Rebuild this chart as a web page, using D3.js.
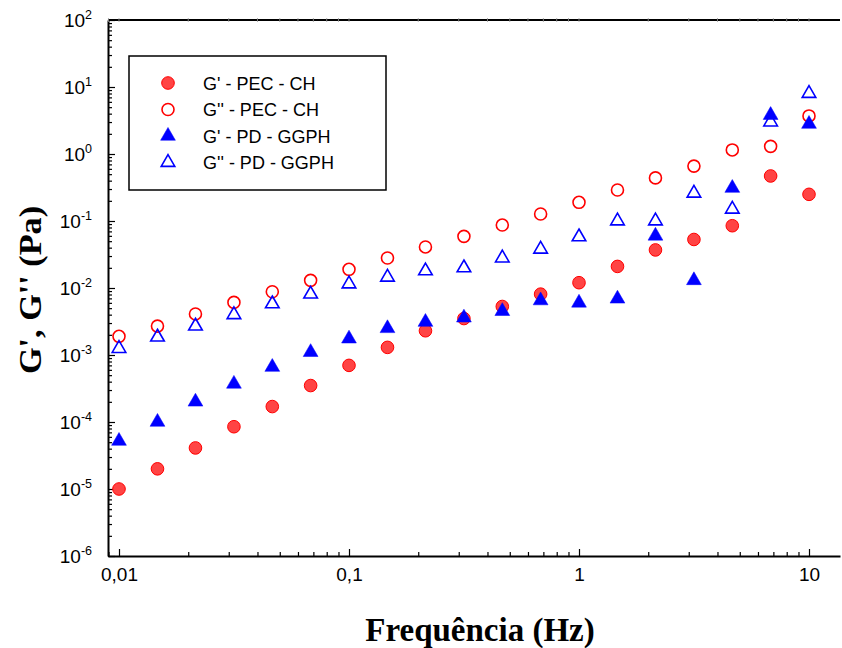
<!DOCTYPE html>
<html>
<head>
<meta charset="utf-8">
<script src="https://cdnjs.cloudflare.com/ajax/libs/d3/7.8.5/d3.min.js"></script>
<style>
    body { margin: 0; background: #fff; }
    text { font-family: Arial, "Liberation Sans", sans-serif; }
</style>
</head>
<body>
<script>
    // frequencies (Hz), 6 points per decade
    var freq = [0.01, 0.0147, 0.0215, 0.0316, 0.0464, 0.0681, 0.1, 0.147, 0.215, 0.316,
                0.464, 0.681, 1, 1.47, 2.15, 3.16, 4.64, 6.81, 10];

    var gp_pec = [1.0e-5, 2.0e-5, 4.1e-5, 8.5e-5, 1.7e-4, 3.5e-4, 7.0e-4, 1.3e-3, 2.3e-3, 3.5e-3,
                  5.3e-3, 8.1e-3, 0.012, 0.021, 0.037, 0.053, 0.085, 0.47, 0.25];
    var gpp_pec = [1.9e-3, 2.7e-3, 4.1e-3, 6.1e-3, 8.8e-3, 0.013, 0.019, 0.028, 0.041, 0.059,
                   0.087, 0.127, 0.19, 0.29, 0.44, 0.66, 1.15, 1.3, 3.7];
    var gp_pd = [5.2e-5, 1.0e-4, 2.0e-4, 3.7e-4, 6.6e-4, 1.1e-3, 1.75e-3, 2.5e-3, 3.1e-3, 3.6e-3,
                 4.5e-3, 6.5e-3, 6.0e-3, 6.9e-3, 0.060, 0.013, 0.31, 3.8, 2.8];
    var gpp_pd = [1.25e-3, 1.85e-3, 2.7e-3, 4.0e-3, 5.8e-3, 8.1e-3, 0.0115, 0.0145, 0.018, 0.020,
                  0.028, 0.038, 0.058, 0.10, 0.10, 0.26, 0.15, 3.0, 8.0];

    var seriesNames = ["G' - PEC - CH", "G'' - PEC - CH", "G' - PD - GGPH", "G'' - PD - GGPH"];
    var xTickLabels = ["0,01", "0,1", "1", "10"];
    var yExponents = [-6, -5, -4, -3, -2, -1, 0, 1, 2];

    var series = [
        {name: seriesNames[0], values: gp_pec, shape: 'circle', filled: true, color: '#ff0000', fill: '#ff4444'},
        {name: seriesNames[1], values: gpp_pec, shape: 'circle', filled: false, color: '#ff0000', fill: '#fff'},
        {name: seriesNames[2], values: gp_pd, shape: 'triangle', filled: true, color: '#0000ff', fill: '#0000ff'},
        {name: seriesNames[3], values: gpp_pd, shape: 'triangle', filled: false, color: '#0000ff', fill: '#fff'}
    ];

    var W = 842, H = 648;
    var pLeft = 108, pRight = 840, pTop = 20, pBottom = 556;

    var svg = d3.select('body').append('svg')
        .attr('width', W)
        .attr('height', H);

    // 0,01 sits 11px in from the left axis, 10 sits at 809
    var x = d3.scaleLog()
        .domain([0.01, 10])
        .range([119, 809]);
    x.domain([x.invert(pLeft), x.invert(pRight)]).range([pLeft, pRight]);

    var y = d3.scaleLog()
        .domain([1e-6, 1e2])
        .range([pBottom, pTop]);

    function isMajor(v) {
        var l = Math.log10(v);
        return Math.abs(l - Math.round(l)) < 1e-6;
    }

    var xTicks = [];
    for (var e = -3; e <= 1; e++) {
        for (var m = 1; m < 10; m++) {
            var v = m * Math.pow(10, e);
            if (v >= x.domain()[0] && v <= x.domain()[1]) xTicks.push(v);
        }
    }
    var yTicks = [];
    for (var e = -6; e <= 2; e++) {
        for (var m = 1; m < 10; m++) {
            var v = m * Math.pow(10, e);
            if (v <= 100) yTicks.push(v);
        }
    }

    // bottom axis, ticks pointing inward
    var xAxis = svg.append('g')
        .attr('transform', 'translate(0,' + pBottom + ')')
        .call(d3.axisBottom(x).tickValues(xTicks).tickSizeInner(-6).tickSizeOuter(0).tickPadding(12)
            .tickFormat(d => {
                var i = [0.01, 0.1, 1, 10].findIndex(t => Math.abs(t - d) < 1e-9);
                return i >= 0 ? xTickLabels[i] : '';
            }));
    xAxis.select('.domain').attr('stroke-width', 2);
    xAxis.selectAll('.tick line')
        .attr('y2', d => isMajor(d) ? -7 : -4)
        .attr('stroke-width', 1.2);
    xAxis.selectAll('.tick text')
        .attr('font-size', 19)
        .attr('fill', '#000')
        .attr('font-family', 'Arial, "Liberation Sans", sans-serif');

    // left axis, ticks pointing inward
    var yAxis = svg.append('g')
        .attr('transform', 'translate(' + pLeft + ',0)')
        .call(d3.axisLeft(y).tickValues(yTicks).tickSizeInner(-6).tickSizeOuter(0).tickPadding(16)
            .tickFormat(''));
    yAxis.select('.domain').attr('stroke-width', 2);
    yAxis.selectAll('.tick line')
        .attr('x2', d => isMajor(d) ? 7 : 4)
        .attr('stroke-width', 1.2);

    // y tick labels 10^n
    var yLab = svg.append('g').selectAll('text')
        .data(yExponents)
        .enter().append('text')
        .attr('x', 92)
        .attr('y', d => y(Math.pow(10, d)) + 7)
        .attr('text-anchor', 'end')
        .attr('font-size', 19)
        .attr('fill', '#000');
    yLab.append('tspan').text('10');
    yLab.append('tspan')
        .attr('font-size', 12.5)
        .attr('dy', -8)
        .text(d => d);

    // top frame line
    svg.append('line')
        .attr('x1', pLeft).attr('x2', pRight)
        .attr('y1', pTop).attr('y2', pTop)
        .attr('stroke', '#000')
        .attr('stroke-width', 2);
    svg.append('g').selectAll('line')
        .data(xTicks)
        .enter().append('line')
        .attr('x1', d => x(d)).attr('x2', d => x(d))
        .attr('y1', pTop - 2).attr('y2', pTop + 2)
        .attr('stroke', '#999')
        .attr('stroke-width', 0.8);

    var tri = d3.symbol().type(d3.symbolTriangle).size(95);
    var triOpen = d3.symbol().type(d3.symbolTriangle).size(80);

    function drawMarker(g, s, cx, cy) {
        if (s.shape === 'circle') {
            g.append('circle')
                .attr('cx', cx).attr('cy', cy)
                .attr('r', s.filled ? 6.3 : 6)
                .attr('fill', s.fill)
                .attr('fill-opacity', s.filled ? 1 : 0)
                .attr('stroke', s.color)
                .attr('stroke-width', s.filled ? 1 : 1.6);
        } else {
            g.append('path')
                .attr('d', s.filled ? tri() : triOpen())
                .attr('transform', 'translate(' + cx + ',' + cy + ')')
                .attr('fill', s.fill)
                .attr('fill-opacity', s.filled ? 1 : 0)
                .attr('stroke', s.color)
                .attr('stroke-width', s.filled ? 0.5 : 1.6);
        }
    }

    var marks = svg.append('g');
    series.forEach(s => {
        var g = marks.append('g').attr('class', 'series');
        s.values.forEach((v, i) => drawMarker(g, s, x(freq[i]), y(v)));
    });

    // legend
    var legend = svg.append('g');
    legend.append('rect')
        .attr('x', 129).attr('y', 56)
        .attr('width', 257).attr('height', 134)
        .attr('fill', '#fff')
        .attr('stroke', '#000')
        .attr('stroke-width', 1.5);
    series.forEach((s, i) => {
        var ly = 83 + i * 26.5;
        drawMarker(legend, s, 168, ly);
        legend.append('text')
            .attr('x', 203)
            .attr('y', ly + 6.5)
            .attr('font-size', 18)
            .attr('fill', '#000')
            .text(s.name);
    });

    // axis titles
    svg.append('text')
        .attr('x', 480)
        .attr('y', 641)
        .attr('text-anchor', 'middle')
        .style('font-family', '"Liberation Serif", "Times New Roman", serif')
        .style('font-weight', 'bold')
        .attr('font-size', 33)
        .text('Frequência (Hz)');

    svg.append('text')
        .attr('transform', 'translate(41,290) rotate(-90)')
        .attr('text-anchor', 'middle')
        .attr('textLength', 168)
        .attr('lengthAdjust', 'spacingAndGlyphs')
        .style('font-family', '"Liberation Serif", "Times New Roman", serif')
        .style('font-weight', 'bold')
        .attr('font-size', 32)
        .text("G', G'' (Pa)");
</script>
</body>
</html>
